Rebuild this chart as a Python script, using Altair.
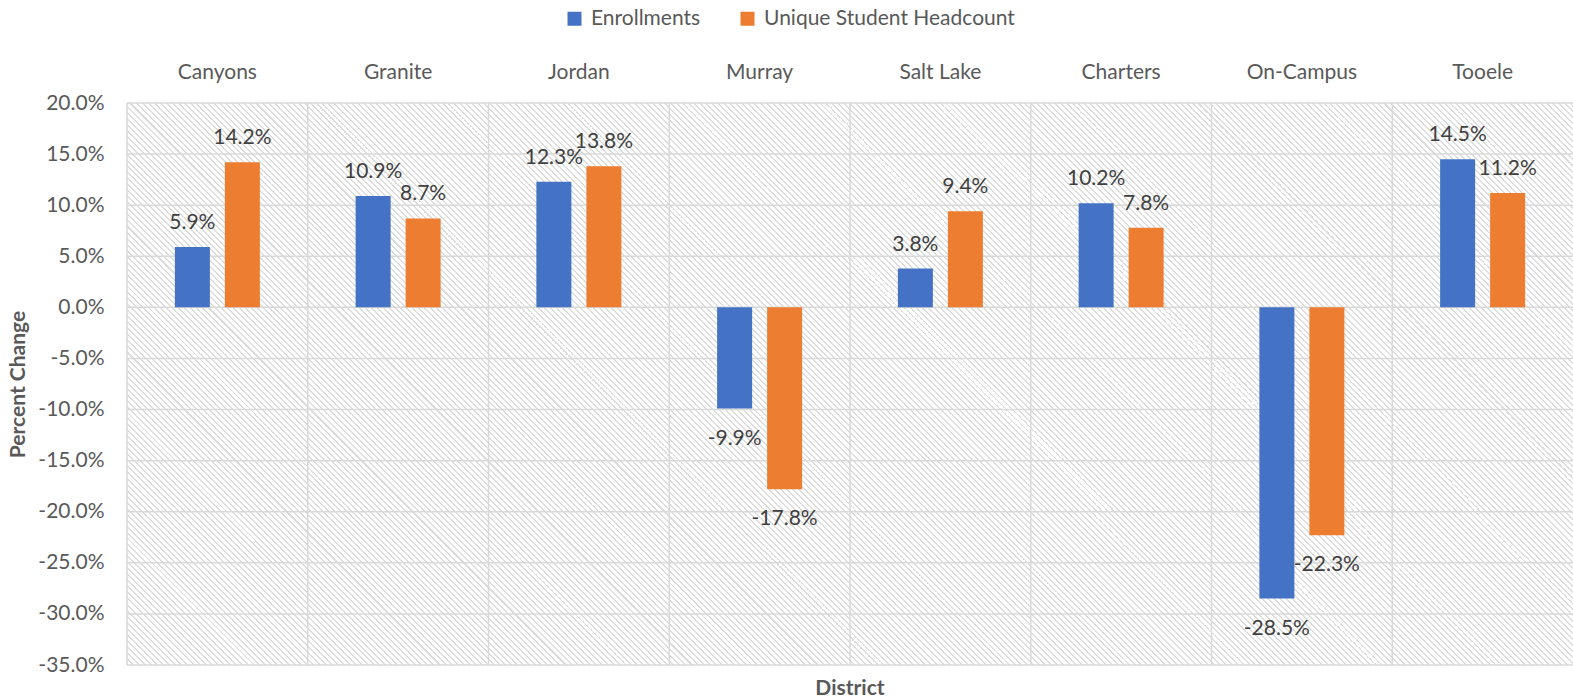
import altair as alt
import pandas as pd

# --- data -------------------------------------------------------------
districts = ["Canyons", "Granite", "Jordan", "Murray", "Salt Lake",
             "Charters", "On-Campus", "Tooele"]
series_names = ["Enrollments", "Unique Student Headcount"]
enrollments = [5.9, 10.9, 12.3, -9.9, 3.8, 10.2, -28.5, 14.5]
headcount = [14.2, 8.7, 13.8, -17.8, 9.4, 7.8, -22.3, 11.2]
y_ticks = [20, 15, 10, 5, 0, -5, -10, -15, -20, -25, -30, -35]
series_colors = ["#4472C4", "#ED7D31"]

rows = []
for name, vals in zip(series_names, [enrollments, headcount]):
    for d, v in zip(districts, vals):
        rows.append({"District": d, "Series": name, "Value": v,
                     "Label": f"{v:.1f}%"})
df = pd.DataFrame(rows)

# --- styling ----------------------------------------------------------
W, H = 1446, 562
FONT = "Lato"
AXIS_GRAY = "#595959"
LABEL_GRAY = "#404040"
GRID = "#D9D9D9"
HATCH = "#DEDEDE"

# Diagonal hatch built as a striped linear gradient at 45 degrees
span = W + H
s = span / (W * W + H * H)
period, stripe = 6.0, 2.0
stops = []
pos = 0.0
while pos < span:
    a = round(pos / span, 6)
    b = round(min((pos + stripe) / span, 1.0), 6)
    stops += [{"offset": a, "color": "#FFFFFF"},
              {"offset": a, "color": HATCH},
              {"offset": b, "color": HATCH},
              {"offset": b, "color": "#FFFFFF"}]
    pos += period
hatch_fill = {"gradient": "linear", "x1": 0, "y1": 1,
              "x2": round(W * s, 6), "y2": round(1 - H * s, 6),
              "stops": stops}

x_axis = alt.Axis(orient="top", title=None, ticks=False, tickSize=0,
                  domain=False, grid=False, labelAngle=0,
                  labelFont=FONT, labelFontSize=21, labelColor=AXIS_GRAY,
                  labelPadding=31, labelBaseline="middle")
y_axis = alt.Axis(values=y_ticks, domain=False, ticks=False, tickSize=0,
                  grid=False, labelOverlap=False,
                  labelExpr="(datum.value < 0 ? '-' : '') + format(abs(datum.value), '.1f') + '%'",
                  labelFont=FONT, labelFontSize=21, labelColor=AXIS_GRAY,
                  labelPadding=23,
                  title="Percent Change", titleFont=FONT, titleFontSize=21,
                  titleFontWeight="bold", titleColor=AXIS_GRAY,
                  titleAngle=270, titleX=-109, titleY=H / 2,
                  titleAlign="center", titleBaseline="middle")

x_scale = alt.Scale(paddingInner=0, paddingOuter=0)
y_scale = alt.Scale(domain=[-35, 20], nice=False, zero=False)

x_enc = alt.X("District:N", sort=districts, scale=x_scale, axis=x_axis)
x_off = alt.XOffset("Series:N", sort=series_names,
                    scale=alt.Scale(paddingInner=0.3, paddingOuter=0.9575))
y_enc = alt.Y("Value:Q", scale=y_scale, axis=y_axis)

# --- layers -----------------------------------------------------------
background = alt.Chart(alt.Data(values=[{}])).mark_rect(fill=hatch_fill).encode(
    x=alt.value(0), x2=alt.value("width"),
    y=alt.value(0), y2=alt.value("height"))

v_grid = alt.Chart(pd.DataFrame({"District": districts})).mark_rule(
    color=GRID, strokeWidth=1.5).encode(
    x=alt.X("District:N", sort=districts, scale=x_scale, axis=x_axis,
            bandPosition=0))

h_grid = alt.Chart(pd.DataFrame({"Value": y_ticks})).mark_rule(
    color=GRID, strokeWidth=1.5).encode(y=y_enc)

bars = alt.Chart(df).mark_bar().encode(
    x=x_enc, xOffset=x_off, y=y_enc,
    color=alt.Color("Series:N", sort=series_names,
                    scale=alt.Scale(domain=series_names, range=series_colors),
                    legend=alt.Legend(orient="none", legendX=437, legendY=-95,
                                      direction="horizontal", title=None,
                                      symbolType="square", symbolSize=196,
                                      symbolStrokeWidth=0, labelFont=FONT,
                                      labelFontSize=21, labelColor=AXIS_GRAY,
                                      labelOffset=6, columnPadding=36,
                                      padding=0, labelLimit=400)))

labels_pos = alt.Chart(df).transform_filter("datum.Value >= 0").mark_text(
    font=FONT, fontSize=21, color=LABEL_GRAY, baseline="middle", dy=-24).encode(
    x=x_enc, xOffset=x_off, y=y_enc, text="Label:N")

labels_neg = alt.Chart(df).transform_filter("datum.Value < 0").mark_text(
    font=FONT, fontSize=21, color=LABEL_GRAY, baseline="middle", dy=30).encode(
    x=x_enc, xOffset=x_off, y=y_enc, text="Label:N")

chart = alt.layer(background, v_grid, h_grid, bars, labels_pos, labels_neg).properties(
    width=W, height=H,
    autosize=alt.AutoSizeParams(type="none"),
    padding={"left": 127, "top": 103, "right": 0, "bottom": 33},
    title=alt.TitleParams(text="District", orient="bottom", anchor="middle",
                          frame="group", font=FONT, fontSize=21,
                          fontWeight="bold", color=AXIS_GRAY, offset=3,
                          baseline="top"),
).configure(font=FONT).configure_view(stroke=None)

chart.save("out.html", embed_options={"renderer": "svg", "actions": False})
